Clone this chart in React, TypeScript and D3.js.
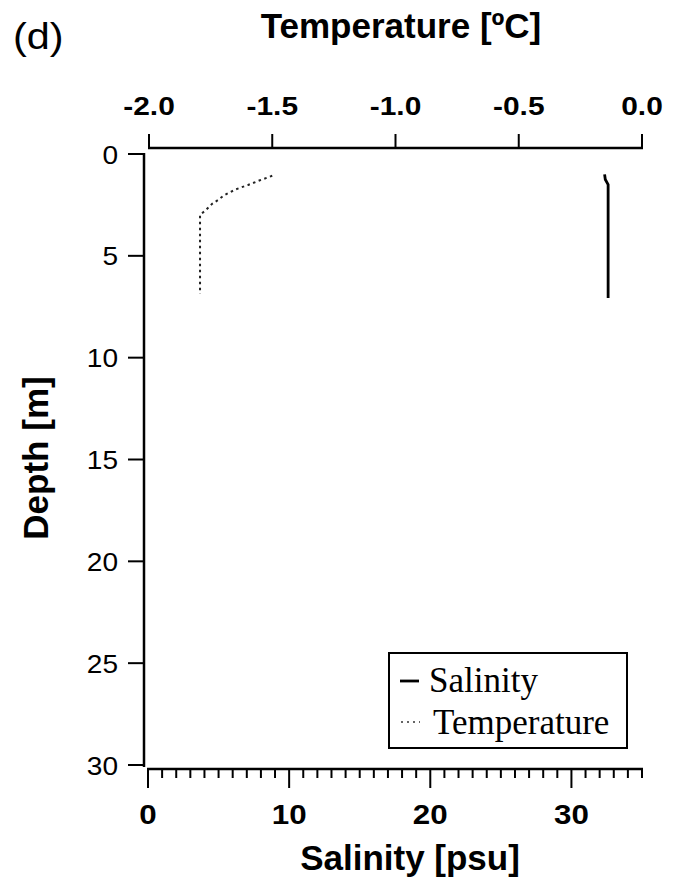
import React from "react";
import * as d3 from "d3";

const depthTicks = [0, 5, 10, 15, 20, 25, 30];
const tempTicks = [-2.0, -1.5, -1.0, -0.5, 0.0];
const salTicks = [0, 10, 20, 30];

const salinityDepth = [1.0, 1.25, 1.5, 2.0, 3.0, 4.0, 5.0, 6.0, 7.07];
const salinityValues = [32.35, 32.4, 32.6, 32.6, 32.6, 32.6, 32.6, 32.6, 32.6];

const tempDepth = [1.07, 1.29, 1.52, 1.73, 2.03, 2.26, 2.45, 2.75, 2.99, 4.0, 5.0, 6.0, 6.87];
const tempValues = [-1.5, -1.55, -1.598, -1.647, -1.696, -1.72, -1.744, -1.769, -1.793, -1.793, -1.793, -1.793, -1.793];

const SANS = "'Liberation Sans', Arial, sans-serif";
const SERIF = "'Liberation Serif', 'Times New Roman', serif";

export default function App() {
  const W = 677, H = 881;
  const y = d3.scaleLinear().domain([0, 30]).range([154, 765]);
  const xT = d3.scaleLinear().domain([-2, 0]).range([149, 642]);
  const xS = d3.scaleLinear().domain([0, 35]).range([148, 642]);

  const leftX = 144;
  const topY = 148;
  const botY = 769;

  const salLine = d3
    .line<number>()
    .x((_, i) => xS(salinityValues[i]))
    .y((d) => y(d))(salinityDepth) as string;
  const tempLine = d3
    .line<number>()
    .x((_, i) => xT(tempValues[i]))
    .y((d) => y(d))(tempDepth) as string;

  const minor = d3.range(0, 36, 1);

  return (
    <svg
      width={W}
      height={H}
      style={{ position: "absolute", left: 0, top: 0, background: "#fff" }}
    >
      <rect x={0} y={0} width={W} height={H} fill="#fff" />
      {/* panel label */}
      <text transform="translate(13,49) scale(1.12,1)" fontFamily={SANS} fontSize={37} fill="#000">(d)</text>

      {/* top axis title */}
      <text x={401} y={38} textAnchor="middle" fontFamily={SANS} fontSize={35} fontWeight="bold">
        Temperature [ºC]
      </text>

      {/* top axis */}
      <line x1={xT(-2) - 1} x2={xT(0) + 1} y1={topY} y2={topY} stroke="#000" strokeWidth={2.5} />
      {tempTicks.map((t) => (
        <g key={"tt" + t}>
          <line x1={xT(t)} x2={xT(t)} y1={topY} y2={topY - 14} stroke="#000" strokeWidth={2} />
          <text
            transform={`translate(${xT(t)},115) scale(1.15,1)`}
            textAnchor="middle"
            fontFamily={SANS}
            fontSize={26}
            fontWeight="bold"
          >
            {t.toFixed(1)}
          </text>
        </g>
      ))}

      {/* left axis */}
      <line x1={leftX} x2={leftX} y1={y(0) - 1} y2={y(30) + 2} stroke="#000" strokeWidth={2.5} />
      {depthTicks.map((d) => (
        <g key={"dt" + d}>
          <line x1={leftX - 16} x2={leftX} y1={y(d)} y2={y(d)} stroke="#000" strokeWidth={2} />
          <text
            transform={`translate(118,${y(d) + 9.5}) scale(1.08,1)`}
            textAnchor="end"
            fontFamily={SANS}
            fontSize={26}
          >
            {d}
          </text>
        </g>
      ))}
      <text
        transform={`translate(48,458) rotate(-90)`}
        textAnchor="middle"
        fontFamily={SANS}
        fontSize={35}
        fontWeight="bold"
      >
        Depth [m]
      </text>

      {/* bottom axis */}
      <line x1={xS(0) - 1} x2={xS(35) + 1} y1={botY} y2={botY} stroke="#000" strokeWidth={2.5} />
      {minor.map((m) => (
        <line
          key={"mt" + m}
          x1={xS(m)}
          x2={xS(m)}
          y1={botY}
          y2={botY + (m % 10 === 0 ? 19 : 9)}
          stroke="#000"
          strokeWidth={2}
        />
      ))}
      {salTicks.map((s) => (
        <text
          key={"st" + s}
          transform={`translate(${xS(s)},824) scale(1.12,1)`}
          textAnchor="middle"
          fontFamily={SANS}
          fontSize={28}
          fontWeight="bold"
        >
          {s}
        </text>
      ))}
      <text x={410} y={870} textAnchor="middle" fontFamily={SANS} fontSize={35} fontWeight="bold">
        Salinity [psu]
      </text>

      {/* data */}
      <path d={salLine} fill="none" stroke="#000" strokeWidth={2.8} />
      <path d={tempLine} fill="none" stroke="#222" strokeWidth={2} strokeDasharray="2.5,3.5" />

      {/* legend */}
      <rect x={389} y={653} width={238} height={95} fill="#fff" stroke="#000" strokeWidth={2} />
      <line x1={400} x2={419} y1={681} y2={681} stroke="#000" strokeWidth={2.8} />
      <text x={429} y={692} fontFamily={SERIF} fontSize={35}>Salinity</text>
      <line x1={401} x2={420} y1={722} y2={722} stroke="#333" strokeWidth={1.6} strokeDasharray="2,4" />
      <text x={433} y={734} fontFamily={SERIF} fontSize={35}>Temperature</text>
    </svg>
  );
}
